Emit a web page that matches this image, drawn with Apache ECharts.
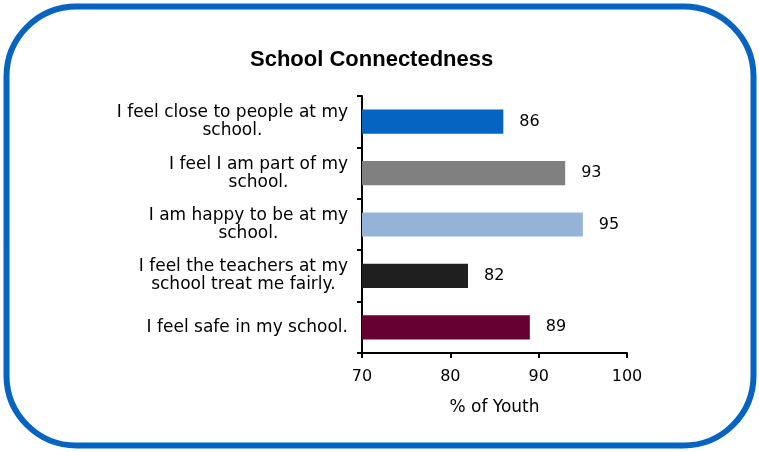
<!DOCTYPE html>
<html><head><meta charset="utf-8">
<script src="https://cdn.jsdelivr.net/npm/echarts@6/dist/echarts.min.js"></script>
<style>html,body{margin:0;padding:0;background:#fff}#c{width:759px;height:452px}</style>
</head><body><div id="c"></div>
<script>
const categories = [
  "I feel close to people at my\nschool.",
  "I feel I am part of my\nschool.",
  "I am happy to be at my\nschool.",
  "I feel the teachers at my\nschool treat me fairly.",
  "I feel safe in my school."
];
const values = [86, 93, 95, 82, 89];
const barColors = ["#0563C1", "#808080", "#95B3D7", "#1F1F1F", "#660033"];
const xTicks = [70, 80, 90, 100];

const chart = echarts.init(document.getElementById('c'));
const FONT = "'DejaVu Sans', sans-serif";
chart.setOption({
  animation: false,
  title: {
    text: "School Connectedness",
    left: 245, top: 44,
    textStyle: {fontFamily: "'Liberation Sans', Arial, sans-serif", fontSize: 22, fontWeight: 'bold', color: '#000'}
  },
  graphic: [{
    type: 'rect',
    shape: {x: 6.5, y: 6.5, width: 747, height: 439, r: 70},
    style: {fill: 'none', stroke: '#0563C1', lineWidth: 6}
  }],
  grid: {left: 362, right: 132, top: 96, bottom: 99},
  xAxis: {
    type: 'value', min: xTicks[0], max: xTicks[xTicks.length-1], interval: 10,
    name: "% of Youth", nameLocation: 'middle', nameGap: 46,
    nameTextStyle: {fontFamily: FONT, fontSize: 17, color: '#000'},
    axisLine: {show: true, lineStyle: {color: '#000', width: 2}},
    axisTick: {show: true, length: 5, lineStyle: {color: '#000', width: 2}},
    axisLabel: {fontFamily: FONT, fontSize: 16, color: '#000', margin: 16},
    splitLine: {show: false}
  },
  yAxis: {
    type: 'category', data: categories, inverse: true,
    axisLine: {show: true, lineStyle: {color: '#000', width: 2}},
    axisTick: {show: true, length: 5, lineStyle: {color: '#000', width: 2}},
    axisLabel: {
      fontFamily: FONT, fontSize: 17, color: '#000', margin: 14, align: 'right', lineHeight: 18,
      formatter: (v) => v.split('\n').map(s => '{c|' + s + '}').join('\n'),
      rich: {c: {align: 'center', fontFamily: FONT, fontSize: 17, color: '#000', lineHeight: 18}}
    }
  },
  series: [{
    type: 'bar', barWidth: '47%',
    data: values.map((v, i) => ({value: v, itemStyle: {color: barColors[i]}})),
    label: {show: true, position: 'right', distance: 16, fontFamily: FONT, fontSize: 16, color: '#000'}
  }]
});
</script></body></html>
